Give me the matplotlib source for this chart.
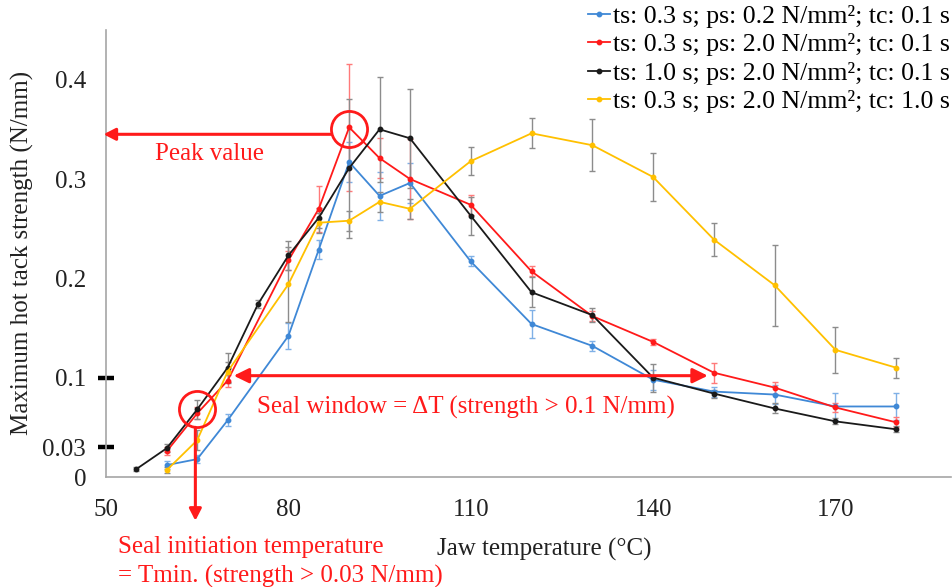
import matplotlib
matplotlib.use('Agg')
import matplotlib.pyplot as plt
import numpy as np

plt.rcParams['font.family'] = ['Liberation Serif', 'DejaVu Serif']

# ---------------- data ----------------
labels = ['ts: 0.3 s; ps: 0.2 N/mm²; tc: 0.1 s',
          'ts: 0.3 s; ps: 2.0 N/mm²; tc: 0.1 s',
          'ts: 1.0 s; ps: 2.0 N/mm²; tc: 0.1 s',
          'ts: 0.3 s; ps: 2.0 N/mm²; tc: 1.0 s']

T_blue = [60, 65, 70, 80, 85, 90, 95, 100, 110, 120, 130, 140, 150, 160, 170, 180]
blue = [0.012, 0.018, 0.057, 0.142, 0.229, 0.317, 0.283, 0.296, 0.217, 0.154, 0.132, 0.098, 0.086, 0.083, 0.071, 0.071]
blue_err = [0.004, 0.004, 0.006, 0.013, 0.010, 0.020, 0.024, 0.020, 0.005, 0.014, 0.005, 0.010, 0.005, 0.010, 0.014, 0.014]

T_red = [60, 65, 70, 80, 85, 90, 95, 100, 110, 120, 130, 140, 150, 160, 170, 180]
red = [0.026, 0.064, 0.097, 0.218, 0.270, 0.352, 0.321, 0.300, 0.274, 0.207, 0.162, 0.136, 0.105, 0.090, 0.070, 0.055]
red_err = [0.004, 0.006, 0.006, 0.010, 0.023, 0.064, 0.020, 0.040, 0.010, 0.005, 0.005, 0.003, 0.010, 0.006, 0.005, 0.005]

T_black = [55, 60, 65, 70, 75, 80, 85, 90, 95, 100, 110, 120, 130, 140, 150, 160, 170, 180]
black = [0.008, 0.029, 0.068, 0.110, 0.174, 0.223, 0.261, 0.311, 0.350, 0.341, 0.263, 0.186, 0.163, 0.100, 0.084, 0.069, 0.056, 0.048]
black_err = [0.002, 0.004, 0.010, 0.015, 0.004, 0.015, 0.010, 0.070, 0.053, 0.050, 0.019, 0.015, 0.007, 0.014, 0.004, 0.005, 0.003, 0.003]

T_yellow = [60, 65, 70, 80, 85, 90, 95, 100, 110, 120, 130, 140, 150, 160, 170, 180]
yellow = [0.007, 0.037, 0.106, 0.194, 0.256, 0.258, 0.277, 0.270, 0.318, 0.346, 0.334, 0.302, 0.239, 0.193, 0.128, 0.110]
yellow_err = [0.003, 0.010, 0.010, 0.038, 0.010, 0.010, 0.010, 0.010, 0.014, 0.015, 0.026, 0.024, 0.017, 0.041, 0.023, 0.010]

x_ticks = [50, 80, 110, 140, 170]
y_major = [0.03, 0.1]
y_minor = [0, 0.2, 0.3, 0.4]

# annotation anchors
seal_min_T, seal_min_v = 65, 0.068
window_left, window_right, window_level = 71, 149, 0.1

# ---------------- style ----------------
C_BLUE = '#3f88d6'
C_RED = '#ff1a1a'
C_BLACK = '#1a1a1a'
C_YELLOW = '#ffc000'
C_GRAY = '#8c8c8c'
FS = 18

fig = plt.figure(figsize=(9.53, 5.87), dpi=100)
ax = fig.add_axes([106 / 953, 1 - 477 / 587, (951 - 106) / 953, (477 - 30) / 587])

series = [
    (T_blue, blue, blue_err, C_BLUE, '#7fb0e6'),
    (T_red, red, red_err, C_RED, '#ff7a7a'),
    (T_black, black, black_err, C_BLACK, C_GRAY),
    (T_yellow, yellow, yellow_err, C_YELLOW, C_GRAY),
]
handles = []
for (T, v, e, c, ec), lab in zip(series, labels):
    eb = ax.errorbar(T, v, yerr=e, color=c, ecolor=ec, elinewidth=1.0, capsize=2.5,
                     capthick=1.0, lw=1.3, marker='o', ms=3.2, mfc=c, mec=c, label=lab, zorder=3)
    handles.append(eb[0])

ax.set_xlim(50, 189)
ax.set_ylim(0, 0.45)

for s in ['top', 'right']:
    ax.spines[s].set_visible(False)
for s in ['left', 'bottom']:
    ax.spines[s].set_color('#a6a6a6')
    ax.spines[s].set_linewidth(1.2)

ax.set_xticks(x_ticks)
ax.set_xticklabels([str(t) for t in x_ticks])
ax.tick_params(axis='x', length=0, pad=15.5, labelsize=FS, colors='#222222')

ax.set_yticks(y_major)
ax.set_yticklabels(['0.03', '0.1'])
ax.set_yticks(y_minor, minor=True)
ax.set_yticklabels(['0', '0.2', '0.3', '0.4'], minor=True)
ax.tick_params(axis='y', which='major', direction='inout', length=11, width=3.2,
               color='black', pad=9, labelsize=FS, labelcolor='#222222')
ax.tick_params(axis='y', which='minor', length=0, pad=14, labelsize=FS, labelcolor='#222222')

fig.text(22 / 953, 1 - 253 / 587, 'Maximum hot tack strength (N/mm)', rotation=90,
         ha='center', va='center', fontsize=FS, color='#222222')
fig.text(544 / 953, 1 - 549 / 587, 'Jaw temperature (°C)', ha='center', va='center',
         fontsize=FS, color='#222222')

leg = fig.legend(handles=handles, labels=labels, loc='upper right',
                 bbox_to_anchor=(950 / 953, 1 - 5 / 587), frameon=False, fontsize=18.6,
                 handlelength=0.85, handletextpad=0.12, labelspacing=0.2,
                 borderpad=0, borderaxespad=0)

# ---------------- annotations ----------------
pk = int(np.argmax(red))
peak_T, peak_v = T_red[pk], red[pk]
ax.plot([peak_T], [peak_v - 0.002], marker='o', ms=26, mfc='none', mec=C_RED, mew=2.0,
        ls='none', zorder=5, clip_on=False)
ax.annotate('', xy=(49.6, peak_v - 0.007), xytext=(peak_T - 3.0, peak_v - 0.007),
            arrowprops=dict(arrowstyle='-|>,head_length=0.35,head_width=0.18', color=C_RED,
                            lw=2.2, shrinkA=0, shrinkB=0, mutation_scale=20),
            annotation_clip=False, zorder=5)
ax.text(58, 0.325, 'Peak value', color=C_RED, fontsize=FS, ha='left', va='center')

ax.plot([seal_min_T], [seal_min_v], marker='o', ms=26, mfc='none', mec=C_RED, mew=2.0,
        ls='none', zorder=5, clip_on=False)
ax.annotate('', xy=(seal_min_T - 0.3, -0.044), xytext=(seal_min_T - 0.3, seal_min_v - 0.018),
            arrowprops=dict(arrowstyle='-|>,head_length=0.35,head_width=0.18', color=C_RED,
                            lw=2.2, shrinkA=0, shrinkB=0, mutation_scale=20),
            annotation_clip=False, zorder=5)
ax.text(51.9, -0.0705, 'Seal initiation temperature', color=C_RED, fontsize=FS,
        ha='left', va='center')
ax.text(51.9, -0.100, '= Tmin. (strength > 0.03 N/mm)', color=C_RED, fontsize=FS,
        ha='left', va='center')

ax.annotate('', xy=(window_left, window_level + 0.002), xytext=(window_right, window_level + 0.002),
            arrowprops=dict(arrowstyle='<|-|>,head_length=0.45,head_width=0.22', color=C_RED,
                            lw=2.2, shrinkA=0, shrinkB=0, mutation_scale=20),
            annotation_clip=False, zorder=5)
ax.text(74.9, 0.0705, 'Seal window = ΔT (strength > 0.1 N/mm)', color=C_RED, fontsize=FS,
        ha='left', va='center')

fig.savefig('out.png', dpi=100)
